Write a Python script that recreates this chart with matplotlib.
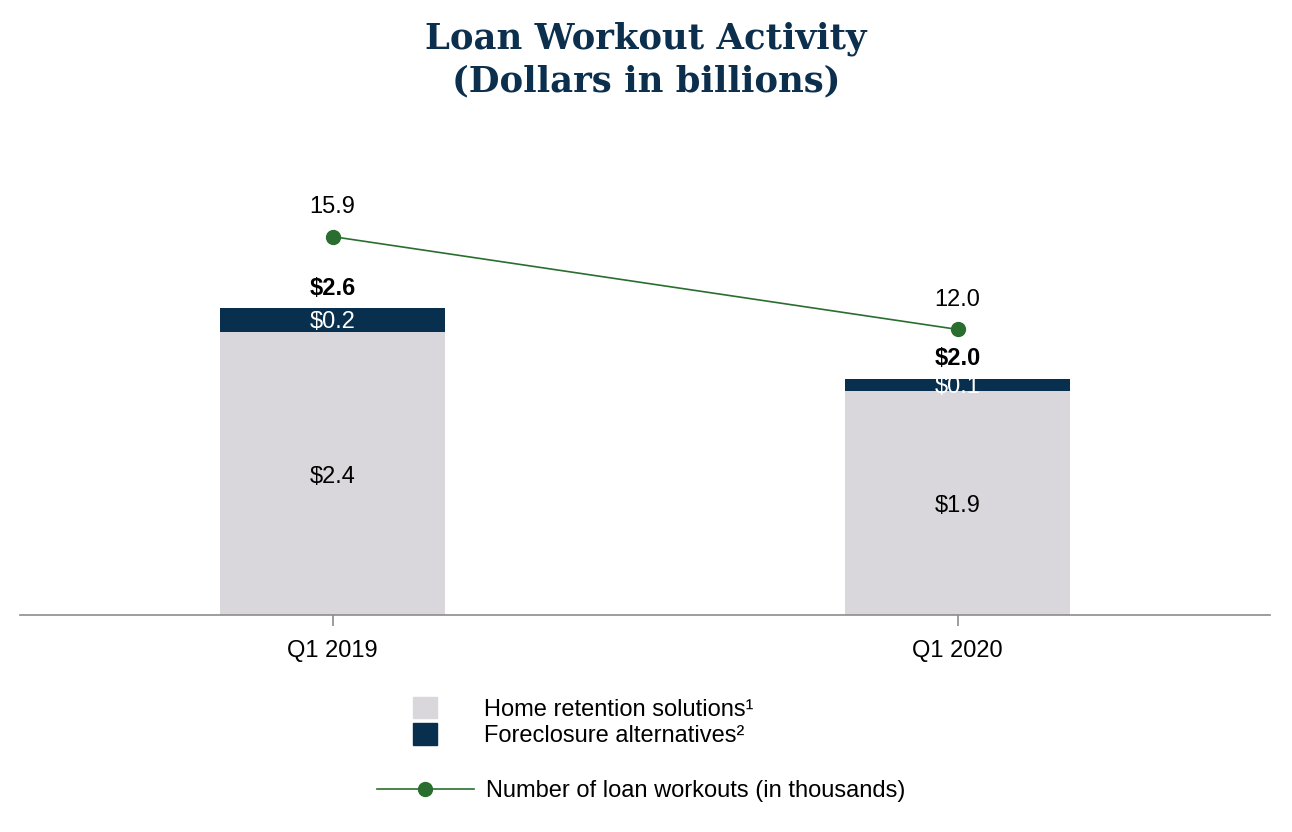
import matplotlib.pyplot as plt
from matplotlib.patches import Patch
from matplotlib.lines import Line2D

quarters = ["Q1 2019", "Q1 2020"]
home_retention = [2.4, 1.9]
foreclosure_alt = [0.2, 0.1]
totals = [2.6, 2.0]
workouts = [15.9, 12.0]

navy = "#08304e"
gray = "#d9d7dc"
green = "#2a6e2f"

plt.rcParams['font.family'] = ['Liberation Sans', 'DejaVu Sans']

fig = plt.figure(figsize=(12.92, 8.32), dpi=100)
ax = fig.add_axes([20/1292, 1-615/832, 1250/1292, 465/832])
x = list(range(len(quarters)))

# stacked bars
ax.bar(x, home_retention, width=0.36, color=gray)
ax.bar(x, foreclosure_alt, width=0.36, bottom=home_retention, color=navy)
ax.set_xlim(-0.5, 1.5)
ax.set_ylim(0, 465/118)

for i in x:
    ax.annotate("$" + format(home_retention[i], ".1f"), (i, home_retention[i]/2),
                xytext=(0, -2.5), textcoords="offset points",
                ha="center", va="center", fontsize=17, color="black")
    ax.annotate("$" + format(foreclosure_alt[i], ".1f"), (i, home_retention[i] + foreclosure_alt[i]/2),
                xytext=(0, -1.5), textcoords="offset points",
                ha="center", va="center", fontsize=17, color="white")
    ax.annotate("$" + format(totals[i], ".1f"), (i, home_retention[i] + foreclosure_alt[i]),
                xytext=(0, 14.5), textcoords="offset points", ha="center", va="center",
                fontsize=17, fontweight="bold")

# line on second axis
ax2 = ax.twinx()
ax2.set_ylim(0, 465/23.8)
ax2.plot(x, workouts, color=green, linewidth=1.2, marker="o", markersize=10)
for i in x:
    ax2.annotate(format(workouts[i], ".1f"), (i, workouts[i]), xytext=(0, 21.5),
                 textcoords="offset points", ha="center", va="center", fontsize=17)
ax2.axis("off")

for s in ["top", "right", "left"]:
    ax.spines[s].set_visible(False)
ax.spines["bottom"].set_color("#8c8c8c")
ax.spines["bottom"].set_linewidth(1.2)
ax.set_yticks([])
ax.set_xticks(x)
ax.set_xticklabels(quarters, fontsize=17)
ax.tick_params(axis="x", length=8, color="#8c8c8c", width=1.2, pad=10)

fig.text(0.5, 1-60/832, "Loan Workout Activity\n(Dollars in billions)", ha="center", va="center",
         fontsize=25.5, fontweight="bold", color="#0b2f4d", family="DejaVu Serif", linespacing=1.3)

# legends
bar_handles = [Patch(color=gray), Patch(color=navy)]
fig.legend(bar_handles, ["Home retention solutions\u00b9", "Foreclosure alternatives\u00b2"],
           loc="upper left", bbox_to_anchor=(413/1292, 1-697/832), frameon=False,
           fontsize=17, handlelength=1.0, handleheight=1.0, handletextpad=2.0,
           labelspacing=0.12, borderpad=0, borderaxespad=0)
line_handle = [Line2D([], [], color=green, linewidth=1.2, marker="o", markersize=10)]
fig.legend(line_handle, ["Number of loan workouts (in thousands)"], loc="upper left",
           bbox_to_anchor=(377/1292, 1-780/832), frameon=False, fontsize=17,
           handlelength=4.1, handletextpad=0.5, borderpad=0, borderaxespad=0)

fig.savefig("out.png", dpi=100)
